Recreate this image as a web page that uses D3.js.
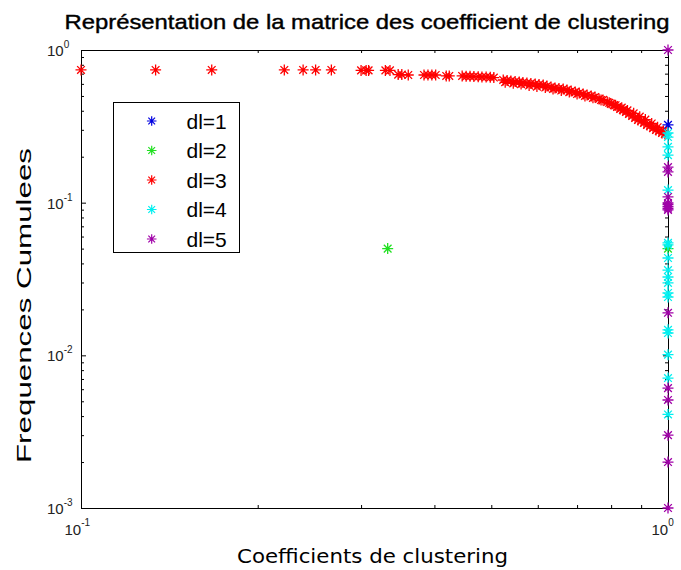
<!DOCTYPE html>
<html><head><meta charset="utf-8">
<script src="https://cdn.jsdelivr.net/npm/d3@7"></script>
<style>body{margin:0;background:#fff}svg{display:block}</style>
</head><body>
<svg id="chart" width="681" height="570"></svg>
<script>
const titleText = "Représentation de la matrice des coefficient de clustering";
const xLabel = "Coefficients de clustering";
const yLabel = "Frequences Cumulees";
const categories = ["dl=1","dl=2","dl=3","dl=4","dl=5"];
const seriesColors = ["#0000e0","#22e022","#ff0000","#00f0f0","#a000a8"];
const xTicks = [0.1, 1];
const xTickExp = ["-1","0"];
const yTicks = [0.001, 0.01, 0.1, 1];
const yTickExp = ["-3","-2","-1","0"];

const dl1X = [1];
const dl1Y = [0.323];
const dl2X = [0.333, 1];
const dl2Y = [0.050, 0.050];
const dl3X = [0.100,0.134,0.167,0.222,0.239,0.251,0.267,0.300,0.306,0.309,0.330,0.336,0.347,0.352,0.361,0.384,0.390,0.396,0.402,0.419,0.424,0.446,0.453,0.460,0.467,0.475,0.482,0.490,0.498,0.505,0.524,0.532,0.540,0.549,0.558,0.566,0.575,0.584,0.594,0.603,0.613,0.622,0.632,0.642,0.652,0.663,0.673,0.684,0.695,0.706,0.717,0.728,0.740,0.751,0.763,0.775,0.788,0.800,0.809,0.819,0.829,0.838,0.848,0.858,0.869,0.879,0.889,0.900,0.910,0.921,0.932,0.943,0.954,0.965,0.977,0.988,
  0.528,0.545,0.562,0.580,0.598,0.618,0.637,0.658,0.679,0.700,0.722,0.745,0.769,0.794,0.814,0.834,0.853,0.874,0.895,0.915,0.938,0.960,0.982];
const dl3Y = [0.740,0.740,0.740,0.740,0.740,0.740,0.740,0.735,0.735,0.735,0.735,0.735,0.690,0.690,0.686,0.686,0.686,0.686,0.686,0.676,0.676,0.676,0.672,0.672,0.670,0.668,0.666,0.666,0.662,0.660,0.636,0.632,0.627,0.622,0.617,0.612,0.608,0.604,0.599,0.594,0.590,0.581,0.572,0.564,0.560,0.555,0.547,0.539,0.531,0.523,0.515,0.507,0.500,0.492,0.478,0.471,0.456,0.443,0.436,0.423,0.411,0.405,0.393,0.381,0.370,0.359,0.348,0.343,0.333,0.323,0.318,0.308,0.299,0.295,0.286,0.282,
  0.615,0.605,0.598,0.585,0.576,0.568,0.556,0.543,0.530,0.515,0.500,0.486,0.470,0.451,0.435,0.419,0.402,0.385,0.366,0.350,0.330,0.312,0.295];
const dl4X = [1,1,1,1,1,1,1,1,1,1,1,1,1,1,1,1,1,1];
const dl4Y = [0.286,0.269,0.232,0.205,0.121,0.0545,0.0529,0.0434,0.0362,0.0326,0.0298,0.0256,0.0241,0.0147,0.0140,0.0101,0.0071,0.0041];
const dl5X = [1,1,1,1,1,1,1,1,1,1,1,1,1,1,1];
const dl5Y = [1,0.171,0.159,0.109,0.0995,0.097,0.094,0.0915,0.0896,0.019,0.0061,0.0051,0.003,0.002,0.001];

const seriesX = [dl1X, dl2X, dl3X, dl4X, dl5X];
const seriesY = [dl1Y, dl2Y, dl3Y, dl4Y, dl5Y];

const L = 81, R = 668, T = 50, B = 508;
const svg = d3.select("#chart");
const font = "'Liberation Sans', Arial, sans-serif";

const x = d3.scaleLog().domain([0.1, 1]).range([L, R]);
const y = d3.scaleLog().domain([0.001, 1]).range([B, T]);

const xMinor = [];
for (let k = 2; k <= 9; k++) xMinor.push(k / 10);
const yMinor = [];
[0.001, 0.01, 0.1].forEach(d => { for (let k = 2; k <= 9; k++) yMinor.push(d * k); });

function styleAxis(g) {
  g.selectAll("path").attr("stroke", "#000").attr("stroke-width", 1);
  g.selectAll("line").attr("stroke", "#000").attr("stroke-width", 1);
  g.selectAll("text").remove();
}
const tk = -5, tkm = -3;
svg.append("g").attr("transform", `translate(0,${B})`).call(d3.axisBottom(x).tickValues(xTicks).tickSizeInner(tk).tickSizeOuter(0).tickFormat(() => "")).call(styleAxis);
svg.append("g").attr("transform", `translate(0,${B})`).call(d3.axisBottom(x).tickValues(xMinor).tickSizeInner(tkm).tickSizeOuter(0).tickFormat(() => "")).call(styleAxis);
svg.append("g").attr("transform", `translate(0,${T})`).call(d3.axisTop(x).tickValues(xTicks).tickSizeInner(tk).tickSizeOuter(0).tickFormat(() => "")).call(styleAxis);
svg.append("g").attr("transform", `translate(0,${T})`).call(d3.axisTop(x).tickValues(xMinor).tickSizeInner(tkm).tickSizeOuter(0).tickFormat(() => "")).call(styleAxis);
svg.append("g").attr("transform", `translate(${L},0)`).call(d3.axisLeft(y).tickValues(yTicks).tickSizeInner(tk).tickSizeOuter(0).tickFormat(() => "")).call(styleAxis);
svg.append("g").attr("transform", `translate(${L},0)`).call(d3.axisLeft(y).tickValues(yMinor).tickSizeInner(tkm).tickSizeOuter(0).tickFormat(() => "")).call(styleAxis);
svg.append("g").attr("transform", `translate(${R},0)`).call(d3.axisRight(y).tickValues(yTicks).tickSizeInner(tk).tickSizeOuter(0).tickFormat(() => "")).call(styleAxis);
svg.append("g").attr("transform", `translate(${R},0)`).call(d3.axisRight(y).tickValues(yMinor).tickSizeInner(tkm).tickSizeOuter(0).tickFormat(() => "")).call(styleAxis);

// tick labels
xTicks.forEach((v, i) => {
  const t = svg.append("text").attr("x", x(v) - 16.5).attr("y", B + 27)
    .attr("font-family", font).attr("font-size", 15).attr("fill", "#222");
  t.append("tspan").text("10");
  t.append("tspan").attr("font-size", 10).attr("dy", -9).text(xTickExp[i]);
});
yTicks.forEach((v, i) => {
  const t = svg.append("text").attr("x", 47).attr("y", y(v) + 6)
    .attr("font-family", font).attr("font-size", 15).attr("fill", "#222");
  t.append("tspan").text("10");
  t.append("tspan").attr("font-size", 10).attr("dy", -8).text(yTickExp[i]);
});

// markers
const star = s => `M${-s},0H${s}M0,${-s}V${s}M${-s*0.7},${-s*0.7}L${s*0.7},${s*0.7}M${-s*0.7},${s*0.7}L${s*0.7},${-s*0.7}`;
seriesX.forEach((xs, si) => {
  const pts = xs.map((xv, j) => [xv, seriesY[si][j]]);
  svg.append("g").selectAll("path").data(pts).join("path")
    .attr("d", star(5.5))
    .attr("transform", d => `translate(${x(d[0])},${y(d[1])})`)
    .attr("fill", "none").attr("stroke", seriesColors[si]).attr("stroke-width", 1.3);
});

// legend
const lg = svg.append("g");
lg.append("rect").attr("x", 113.5).attr("y", 102.5).attr("width", 126).attr("height", 150)
  .attr("fill", "#fff").attr("stroke", "#000").attr("stroke-width", 1);
categories.forEach((c, i) => {
  const cy = 121 + i * 29.5;
  lg.append("path").attr("d", star(4.8)).attr("transform", `translate(151.7,${cy})`)
    .attr("fill", "none").attr("stroke", seriesColors[i]).attr("stroke-width", 1.2);
  lg.append("text").attr("x", 186.5).attr("y", cy + 7.5).attr("font-family", font)
    .attr("font-size", 21).attr("fill", "#000").text(c);
});

// titles
svg.append("text").attr("x", 367).attr("y", 29).attr("text-anchor", "middle")
  .attr("font-family", font).attr("font-size", 21).attr("fill", "#000")
  .attr("stroke", "#000").attr("stroke-width", 0.4)
  .attr("textLength", 605).attr("lengthAdjust", "spacingAndGlyphs").text(titleText);
svg.append("text").attr("x", 372.5).attr("y", 563).attr("text-anchor", "middle")
  .attr("font-family", "'DejaVu Sans', sans-serif").attr("font-size", 19).attr("fill", "#000")
  .attr("textLength", 271).attr("lengthAdjust", "spacingAndGlyphs").text(xLabel);
svg.append("text").attr("transform", "translate(31,305.5) rotate(-90)").attr("text-anchor", "middle")
  .attr("font-family", font).attr("font-size", 21).attr("fill", "#000")
  .attr("textLength", 315).attr("lengthAdjust", "spacingAndGlyphs").text(yLabel);
</script>
</body></html>
